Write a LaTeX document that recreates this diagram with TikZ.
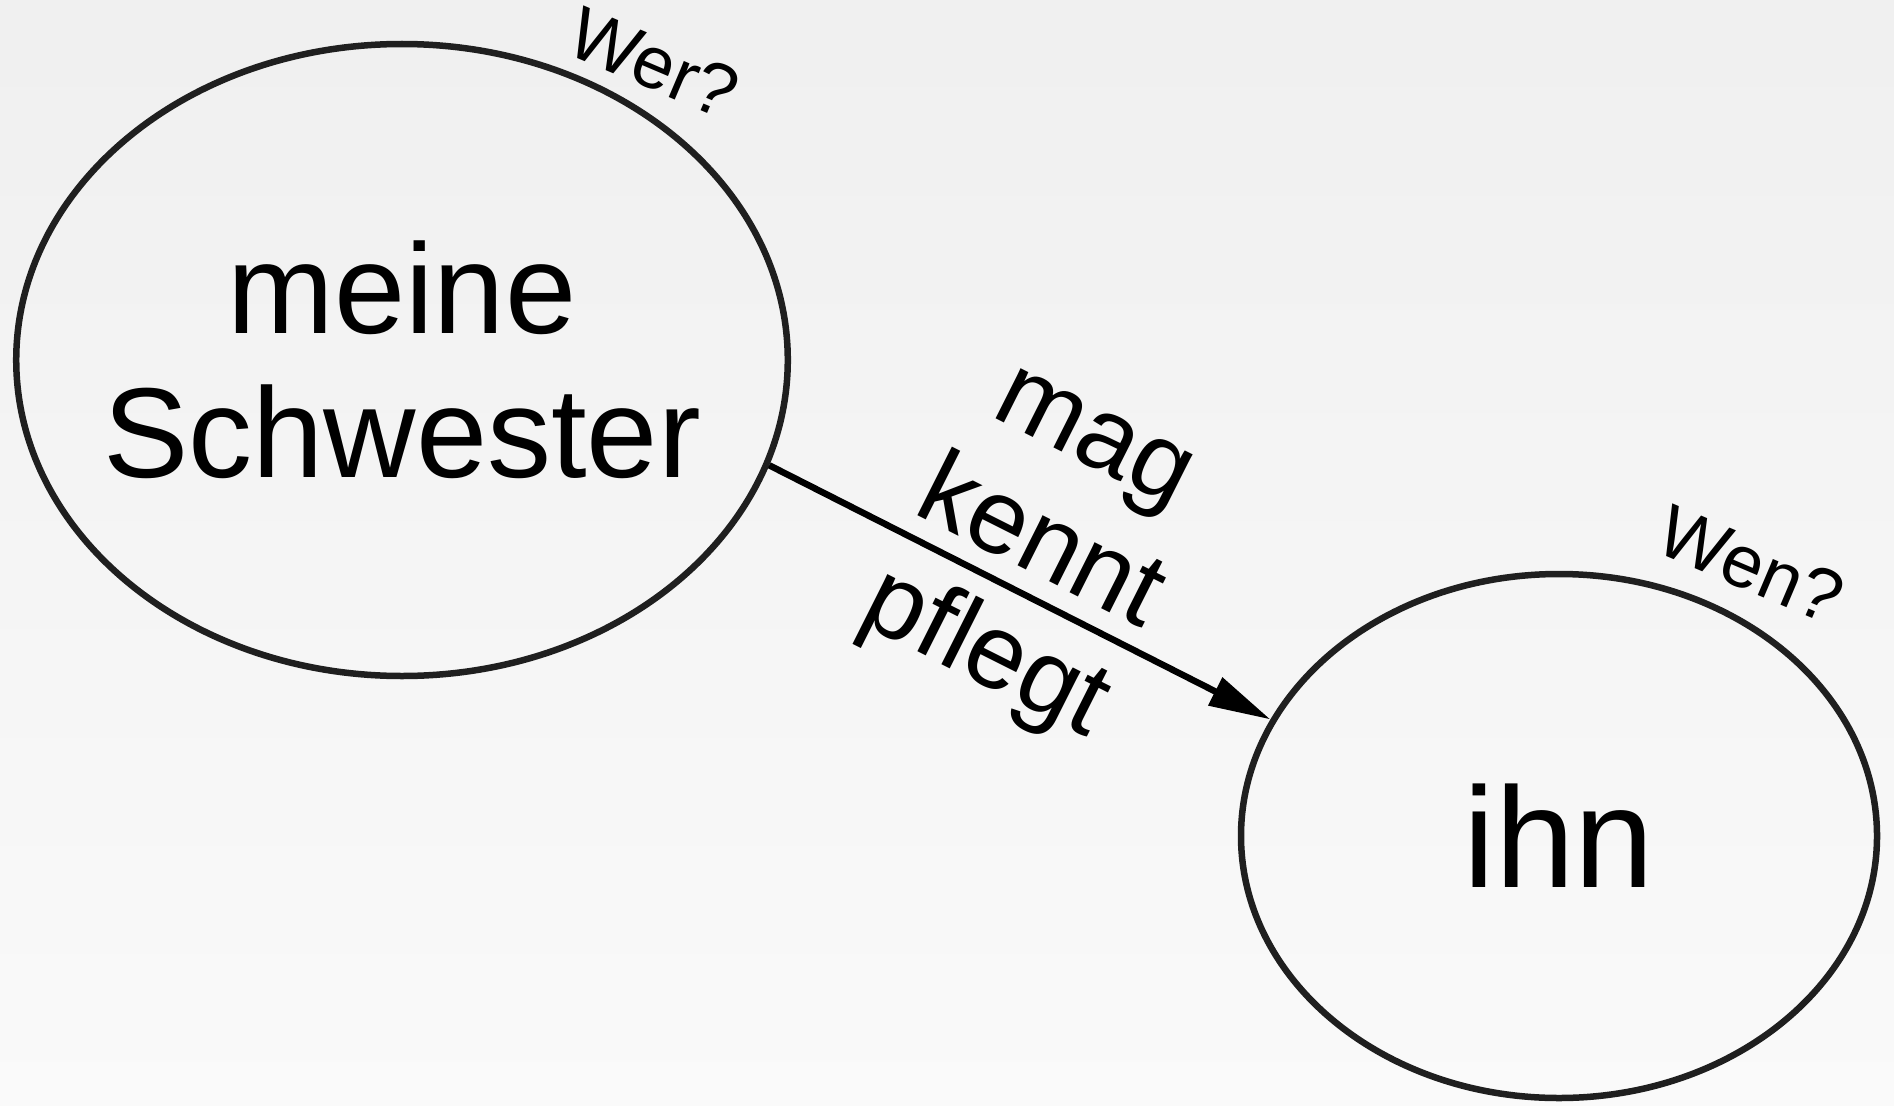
\documentclass[tikz,border=0pt]{standalone}
\usepackage{fontspec}
\setmainfont{Liberation Sans}
\usetikzlibrary{shapes.geometric,arrows.meta}
\definecolor{kant}{HTML}{1F1F1F}
\begin{document}
\begin{tikzpicture}[x=1pt,y=-1pt,
  ring/.style={ellipse,draw=kant,line width=6.5pt,inner sep=0pt,align=center},
  fraga/.style={font=\fontsize{74}{84}\selectfont,rotate=-23,inner sep=0pt},
  pil/.style={line width=6.5pt,-{Triangle[length=62pt,width=30pt]}}]
  % Bakgrund
  \shade[top color=black!6,bottom color=black!2] (0,0) rectangle (1894,1105);
  \useasboundingbox (0,0) rectangle (1894,1105);
  % Noder
  \node[ring,inner xsep=-26pt,minimum width=770pt,minimum height=632pt,font=\fontsize{128}{144}\selectfont] (sis) at (402,360) {meine\\Schwester};
  \node[ring,minimum width=636pt,minimum height=524pt,font=\fontsize{143}{160}\selectfont] (ihn) at (1559,836) {ihn};
  % Frågor
  \node[fraga] (wer) at (654,63) {Wer?};
  \node[fraga] (wen) at (1751,565) {Wen?};
  % Pil
  \draw[pil] (sis.-16.5) -- (ihn.158.4);
  % Verb
  \node[font=\fontsize{106}{122}\selectfont,align=center,rotate=-26.7,inner sep=0pt] (verb) at (1035,555) {mag\\kennt\\pflegt};
\end{tikzpicture}
\end{document}
